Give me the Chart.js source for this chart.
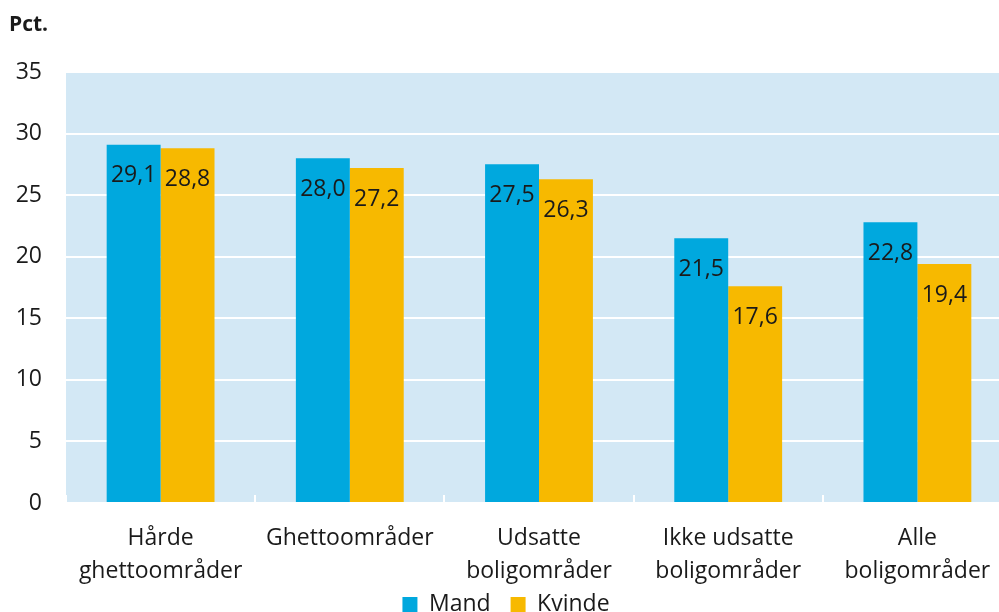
<!DOCTYPE html>
<html>
<head>
<meta charset="utf-8">
<script src="https://cdn.jsdelivr.net/npm/chart.js@4/dist/chart.umd.min.js"></script>
<style>
html, body { margin: 0; padding: 0; overflow: hidden; background: #ffffff; }
#wrap { position: relative; width: 1012px; height: 626px; }
</style>
</head>
<body>
<div id="wrap"><canvas id="c"></canvas></div>
<script>
const categories = [
  ["Hårde", "ghettoområder"],
  "Ghettoområder",
  ["Udsatte", "boligområder"],
  ["Ikke udsatte", "boligområder"],
  ["Alle", "boligområder"]
];
const mandValues = [29.1, 28.0, 27.5, 21.5, 22.8];
const kvindeValues = [28.8, 27.2, 26.3, 17.6, 19.4];
const seriesNames = ["Mand", "Kvinde"];
const yTicks = [0, 5, 10, 15, 20, 25, 30, 35];
const yUnit = "Pct.";

const FONT = "'Open Sans', 'DejaVu Sans', sans-serif";
const TEXT = "#1a1a1a";

const bgPlugin = {
  id: 'plotBg',
  beforeDraw(chart) {
    const { ctx, chartArea: a } = chart;
    ctx.save();
    ctx.fillStyle = '#d3e8f5';
    ctx.fillRect(a.left, a.top, a.right - a.left, a.bottom - a.top);
    ctx.restore();
  },
  afterDraw(chart) {
    const { ctx } = chart;
    ctx.save();
    ctx.fillStyle = TEXT;
    ctx.font = "bold 21px " + FONT;
    ctx.textAlign = 'left';
    ctx.textBaseline = 'middle';
    ctx.fillText(yUnit, 9, 25);
    ctx.restore();
  }
};

const labelPlugin = {
  id: 'barLabels',
  afterDatasetsDraw(chart) {
    const { ctx } = chart;
    ctx.save();
    ctx.fillStyle = TEXT;
    ctx.font = "23px " + FONT;
    ctx.textAlign = 'center';
    ctx.textBaseline = 'middle';
    chart.data.datasets.forEach((ds, di) => {
      const meta = chart.getDatasetMeta(di);
      meta.data.forEach((el, i) => {
        const v = ds.data[i];
        ctx.fillText(v.toFixed(1).replace('.', ','), el.x, el.y + 31);
      });
    });
    ctx.restore();
  }
};

new Chart(document.getElementById('c'), {
  type: 'bar',
  data: {
    labels: categories,
    datasets: [
      { label: seriesNames[0], data: mandValues, backgroundColor: '#00a8de', borderWidth: 0 },
      { label: seriesNames[1], data: kvindeValues, backgroundColor: '#f7b900', borderWidth: 0 }
    ]
  },
  options: {
    responsive: true,
    maintainAspectRatio: false,
    animation: false,
    devicePixelRatio: 1,
    datasets: { bar: { categoryPercentage: 0.57, barPercentage: 1.0 } },
    layout: { padding: { top: 72, left: 0, right: 0, bottom: 0 } },
    plugins: {
      tooltip: { enabled: false },
      legend: {
        position: 'bottom',
        labels: {
          font: { family: FONT, size: 23 },
          color: TEXT,
          boxWidth: 15,
          boxHeight: 15,
          padding: 20
        }
      }
    },
    scales: {
      x: {
        grid: {
          offset: true,
          drawOnChartArea: false,
          drawTicks: true,
          tickLength: -8,
          color: '#ffffff',
          lineWidth: 2
        },
        border: { display: false },
        ticks: {
          font: { family: FONT, size: 23, lineHeight: 1.43 },
          color: TEXT,
          padding: 27,
          maxRotation: 0,
          autoSkip: false
        },
        afterFit(scale) {
          scale.height = 70;
          scale.paddingLeft = 0;
          scale.paddingRight = 0;
          scale._computeLabelArea = function () { return undefined; };
        }
      },
      y: {
        min: 0,
        max: 35,
        afterBuildTicks(scale) { scale.ticks = yTicks.map(v => ({ value: v })); },
        grid: { color: '#ffffff', lineWidth: 2, drawTicks: false },
        border: { display: false },
        ticks: {
          font: { family: FONT, size: 23 },
          color: TEXT,
          padding: 24
        },
        afterFit(scale) { scale.width = 66; }
      }
    }
  },
  plugins: [bgPlugin, labelPlugin]
});
</script>
</body>
</html>
